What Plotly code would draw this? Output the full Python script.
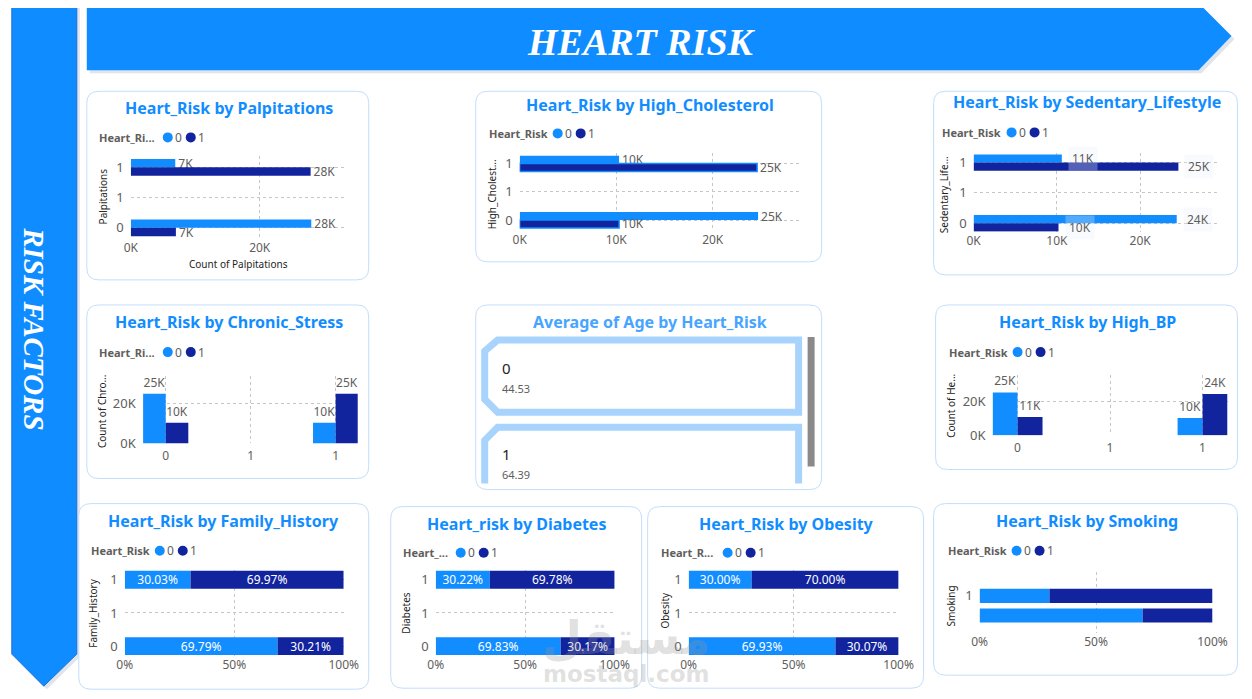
import plotly.graph_objects as go

# the photographed page comes out slightly shrunk and shifted; positions below are
# given in picture pixels and mapped back to figure pixels with these factors
SX, SY = 0.982, 0.984
OX, OY = 15.2, 10.0
W, H = 1262, 702

LIGHT = "#118DFF"
DARK = "#12239E"
TITLE_BLUE = "#118DFF"
GRID = "#C8C6C4"
TICK = "#605E5C"
BORDER = "#C3DEFA"
FONT = "Noto Sans"

# legend levels of Heart_Risk
risk_levels = ["0", "1"]

# horizontal count charts (factor value 1 first, then 0)
hbar_levels = [1, 0]
palpitations_risk0 = [6900, 28000]
palpitations_risk1 = [27900, 7000]
cholesterol_risk0 = [10300, 24700]
cholesterol_risk1 = [24600, 10300]
sedentary_risk0 = [10600, 24400]
sedentary_risk1 = [24600, 10200]

# vertical count charts (factor value 0 first, then 1)
vbar_levels = [0, 1]
stress_risk0 = [24800, 10300]
stress_risk1 = [10300, 24800]
bp_risk0 = [25300, 10300]
bp_risk1 = [10800, 24400]

# 100% stacked charts, share in % (factor value 1 first, then 0)
pct_levels = [1, 0]
family_risk0 = [30.03, 69.79]
family_risk1 = [69.97, 30.21]
diabetes_risk0 = [30.22, 69.83]
diabetes_risk1 = [69.78, 30.17]
obesity_risk0 = [30.00, 69.93]
obesity_risk1 = [70.00, 30.07]
smoking_risk0 = [30.0, 70.0]
smoking_risk1 = [70.0, 30.0]

# average age card
age_levels = ["0", "1"]
avg_age = [44.53, 64.39]

count_ticks = ["0K", "10K", "20K"]
pct_ticks = ["0%", "50%", "100%"]

fig = go.Figure()
shapes = []
annotations = []


def fx(p):
    return ((p - OX) / SX) / W


def fy(p):
    return 1 - ((p - OY) / SY) / H


def pt(x, y):
    return f"{fx(x):.5f},{fy(y):.5f}"


def polygon(points, fill, line_color=None, line_width=0, close=True, layer="below"):
    d = "M " + " L ".join(pt(x, y) for x, y in points) + (" Z" if close else "")
    shapes.append(dict(type="path", xref="paper", yref="paper", path=d, fillcolor=fill,
                       line=dict(color=line_color or fill, width=line_width), layer=layer))


def panel(l, t, r, b, rad=12):
    d = (f"M {pt(l + rad, t)} L {pt(r - rad, t)} Q {pt(r, t)} {pt(r, t + rad)} "
         f"L {pt(r, b - rad)} Q {pt(r, b)} {pt(r - rad, b)} L {pt(l + rad, b)} "
         f"Q {pt(l, b)} {pt(l, b - rad)} L {pt(l, t + rad)} Q {pt(l, t)} {pt(l + rad, t)} Z")
    shapes.append(dict(type="path", xref="paper", yref="paper", path=d, fillcolor="white",
                       line=dict(color=BORDER, width=1), layer="below"))


def text(x, y, s, size=12, color=TICK, bold=False, anchor="center", angle=0, family=FONT, italic=False):
    annotations.append(dict(x=fx(x), y=fy(y), xref="paper", yref="paper", text=s, showarrow=False,
                            xanchor=anchor, yanchor="middle", textangle=angle,
                            font=dict(family=family, size=size, color=color,
                                      weight="bold" if bold else "normal",
                                      style="italic" if italic else "normal")))


def title(x, y, s, color=TITLE_BLUE):
    text(x, y, s, size=16, color=color, bold=True)


def legend(x, y, label, c0, c1):
    text(x, y, label, size=11, color=TICK, bold=True, anchor="left")
    for cx, col, lab in ((c0, LIGHT, risk_levels[0]), (c1, DARK, risk_levels[1])):
        shapes.append(dict(type="circle", xref="paper", yref="paper", x0=fx(cx - 5), x1=fx(cx + 5),
                           y0=fy(y + 5), y1=fy(y - 5), fillcolor=col, line=dict(width=0)))
        text(cx + 5, y, lab, size=12, anchor="left")


axis_count = [0]


def make_axes(box, xrange, yrange, xtv, xtt, ytv, ytt, xstandoff=0):
    axis_count[0] += 1
    n = axis_count[0]
    sx = "" if n == 1 else str(n)
    l, t, r, b = box
    common = dict(showgrid=True, gridcolor=GRID, griddash="dot", gridwidth=1, zeroline=False,
                  showline=False, ticks="", fixedrange=True)
    fig.update_layout(**{
        "xaxis" + sx: dict(domain=[fx(l), fx(r)], range=xrange, anchor="y" + sx,
                           tickvals=xtv, ticktext=xtt, ticklabelstandoff=xstandoff,
                           tickfont=dict(family=FONT, size=12, color=TICK), **common),
        "yaxis" + sx: dict(domain=[fy(b), fy(t)], range=yrange, anchor="x" + sx,
                           tickvals=ytv, ticktext=ytt, ticklabelstandoff=6,
                           tickfont=dict(family=FONT, size=13, color=TICK), **common),
    })
    return "x" + sx, "y" + sx


def k_label(v):
    return f"{int(v / 1000 + 0.5)}K"


def count_bars(ax, levels, risk0, risk1, horizontal, width, edge=None, label_bg=None):
    xa, ya = ax
    for vals, col, off in ((risk0, LIGHT, 0 if horizontal else -width),
                           (risk1, DARK, -width if horizontal else 0)):
        line = dict(width=0)
        if edge and col == DARK:
            line = dict(color=edge, width=1.5)
        labels = [k_label(v) for v in vals]
        common = dict(width=width, offset=off, marker=dict(color=col, line=line),
                      text=None if label_bg else labels, textposition="outside",
                      textfont=dict(family=FONT, size=12, color=TICK), cliponaxis=False,
                      xaxis=xa, yaxis=ya, showlegend=False, hoverinfo="skip")
        if horizontal:
            fig.add_trace(go.Bar(x=vals, y=levels, orientation="h", **common))
        else:
            fig.add_trace(go.Bar(x=levels, y=vals, **common))
        if label_bg and horizontal:
            for v, lev, lab in zip(vals, levels, labels):
                annotations.append(dict(x=v, y=lev + off + width / 2, xref=xa, yref=ya, text=lab,
                                        showarrow=False, xanchor="left", yanchor="middle", xshift=6,
                                        bgcolor=label_bg, borderpad=3,
                                        font=dict(family=FONT, size=12, color=TICK)))


def percent_bars(ax, levels, risk0, risk1, width, show_text=True):
    xa, ya = ax
    for vals, base, col in ((risk0, [0] * len(risk0), LIGHT), (risk1, risk0, DARK)):
        fig.add_trace(go.Bar(
            x=vals, y=levels, base=base, orientation="h", width=width, offset=-width / 2,
            marker=dict(color=col, line=dict(width=0)),
            text=[f"{v:.2f}%" for v in vals] if show_text else None,
            textposition="inside", insidetextanchor="middle", textangle=0,
            textfont=dict(family=FONT, size=12, color="white"),
            xaxis=xa, yaxis=ya, showlegend=False, hoverinfo="skip"))


# ---------- banners ----------
polygon([(89, 8), (1201, 8), (1234, 41), (1201, 75), (89, 75)], "rgba(60,90,140,0.16)")
polygon([(86, 5), (1198, 5), (1231, 38), (1198, 72), (86, 72)], "#0F8CFF")
polygon([(14, 8), (79, 8), (79, 657), (46, 689), (14, 657)], "rgba(60,90,140,0.16)")
polygon([(11, 5), (76, 5), (76, 654), (43, 686), (11, 654)], "#0F8CFF", line_color="#1A6FD8", line_width=1)
text(641, 44, "HEART RISK", size=38, color="white", bold=True, italic=True, family="Liberation Serif")
text(33, 330, "RISK FACTORS", size=29, color="white", bold=True, italic=True, family="Liberation Serif", angle=90)
shapes.append(dict(type="line", xref="paper", yref="paper", x0=fx(1248), x1=fx(1248), y0=0, y1=1,
                   line=dict(color="#6A6A6A", width=2, dash="dot")))

# ---------- panels ----------
panel(86, 93, 368, 281)
panel(475, 93, 821, 263)
panel(933, 93, 1237, 276)
panel(86, 306, 368, 479)
panel(475, 306, 821, 490)
panel(935, 306, 1237, 470)
panel(78, 504, 368, 689)
panel(390, 507, 641, 688)
panel(647, 507, 923, 688)
panel(933, 504, 1237, 675)

# ---------- Palpitations ----------
title(228, 110, "Heart_Risk by Palpitations")
legend(96, 139, "Heart_Ri...", 167, 190)
ax = make_axes((130, 158, 346, 240), [0, 33500], [-0.18, 1.18],
               [0, 20000], [count_ticks[0], count_ticks[2]], [0, 0.5, 1], ["0", "1", "1"])
count_bars(ax, hbar_levels, palpitations_risk0, palpitations_risk1, True, 0.14)
text(102, 198, "Palpitations", size=10, color="#252423", angle=-90)
text(238, 265, "Count of Palpitations", size=10, color="#252423")

# ---------- High_Cholesterol ----------
title(649, 107, "Heart_Risk by High_Cholesterol")
legend(486, 135, "Heart_Risk", 557, 580)
ax = make_axes((519, 155, 798, 232), [0, 28900], [-0.19, 1.18],
               [0, 10000, 20000], count_ticks, [0, 0.5, 1], ["0", "1", "1"])
count_bars(ax, hbar_levels, cholesterol_risk0, cholesterol_risk1, True, 0.14, edge=LIGHT)
text(491, 196, "High_Cholest...", size=10, color="#252423", angle=-90)

# ---------- Sedentary_Lifestyle ----------
title(1086, 104, "Heart_Risk by Sedentary_Lifestyle")
legend(939, 134, "Heart_Risk", 1011, 1034)
ax = make_axes((973, 155, 1217, 233), [0, 29300], [-0.14, 1.15],
               [0, 10000, 20000], count_ticks, [0, 0.5, 1], ["0", "1", "1"])
count_bars(ax, hbar_levels, sedentary_risk0, sedentary_risk1, True, 0.135,
           label_bg="rgba(232,240,250,0.3)")
text(943, 196, "Sedentary_Life...", size=10, color="#252423", angle=-90)

# ---------- Chronic_Stress ----------
title(228, 323, "Heart_Risk by Chronic_Stress")
legend(96, 353, "Heart_Ri...", 167, 190)
ax = make_axes((142, 377, 357, 444), [-0.135, 1.13], [0, 33500],
               [0, 0.5, 1], ["0", "1", "1"], [0, 20000], [count_ticks[0], count_ticks[2]], xstandoff=4)
count_bars(ax, vbar_levels, stress_risk0, stress_risk1, False, 0.133)
text(102, 412, "Count of Chro...", size=10, color="#252423", angle=-90)

# ---------- Average of Age card ----------
title(649, 323, "Average of Age by Heart_Risk", color="#47A5FF")
CARD = "#A7D3FD"
polygon([(484, 352), (497, 341), (798, 341), (798, 413), (497, 413), (484, 400)], "white",
        line_color=CARD, line_width=7, layer="above")
polygon([(484, 484), (484, 441), (497, 428), (798, 428), (798, 484)], "rgba(0,0,0,0)",
        line_color=CARD, line_width=7, close=False, layer="above")
shapes.append(dict(type="rect", xref="paper", yref="paper", x0=fx(807), x1=fx(814), y0=fy(467), y1=fy(338),
                   fillcolor="#8A8A8A", line=dict(width=0)))
for i, (lev, age) in enumerate(zip(age_levels, avg_age)):
    text(499, 369 + 86 * i, lev, size=15, color="#252423", anchor="left")
    text(499, 389 + 86 * i, f"{age:.2f}", size=11, color=TICK, anchor="left")

# ---------- High_BP ----------
title(1087, 323, "Heart_Risk by High_BP")
legend(946, 353, "Heart_Risk", 1017, 1040)
ax = make_axes((992, 376, 1227, 436), [-0.135, 1.135], [0, 35500],
               [0, 0.5, 1], ["0", "1", "1"], [0, 20000], [count_ticks[0], count_ticks[2]], xstandoff=4)
count_bars(ax, vbar_levels, bp_risk0, bp_risk1, False, 0.135)
text(951, 407, "Count of He...", size=10, color="#252423", angle=-90)

# ---------- Family_History ----------
title(223, 521, "Heart_Risk by Family_History")
legend(88, 551, "Heart_Risk", 159, 182)
ax = make_axes((124, 570, 343, 656), [0, 100], [-0.15, 1.15],
               [0, 50, 100], pct_ticks, [0, 0.5, 1], ["0", "1", "1"])
percent_bars(ax, pct_levels, family_risk0, family_risk1, 0.27)
text(92, 613, "Family_History", size=10, color="#252423", angle=-90)

# ---------- Diabetes ----------
title(516, 524, "Heart_risk by Diabetes")
legend(400, 553, "Heart_...", 460, 483)
ax = make_axes((435, 570, 614, 656), [0, 100], [-0.15, 1.15],
               [0, 50, 100], pct_ticks, [0, 0.5, 1], ["0", "1", "1"])
percent_bars(ax, pct_levels, diabetes_risk0, diabetes_risk1, 0.27)
text(405, 613, "Diabetes", size=10, color="#252423", angle=-90)

# ---------- Obesity ----------
title(786, 524, "Heart_Risk by Obesity")
legend(658, 553, "Heart_R...", 727, 750)
ax = make_axes((688, 570, 898, 656), [0, 100], [-0.15, 1.15],
               [0, 50, 100], pct_ticks, [0, 0.5, 1], ["0", "1", "1"])
percent_bars(ax, pct_levels, obesity_risk0, obesity_risk1, 0.27)
text(664, 610, "Obesity", size=10, color="#252423", angle=-90)

# ---------- Smoking ----------
title(1086, 521, "Heart_Risk by Smoking")
legend(945, 551, "Heart_Risk", 1016, 1039)
ax = make_axes((979, 572, 1212, 633), [0, 100], [-0.9, 2.23],
               [0, 50, 100], pct_ticks, [1], ["1"])
percent_bars(ax, pct_levels, smoking_risk0, smoking_risk1, 0.72, show_text=False)
text(950, 606, "Smoking", size=10, color="#252423", angle=-90)

# ---------- watermark ----------
text(625, 638, "مستقل", size=46, color="rgba(150,150,150,0.3)", bold=True, family="DejaVu Sans")
text(625, 674, "mostaql.com", size=23, color="rgba(150,150,150,0.3)", bold=True, family="DejaVu Sans")

fig.update_layout(
    width=W, height=H, margin=dict(l=0, r=0, t=0, b=0),
    paper_bgcolor="white", plot_bgcolor="rgba(0,0,0,0)",
    barmode="overlay", showlegend=False,
    shapes=shapes, annotations=annotations,
    font=dict(family=FONT, color=TICK),
)
fig.update_traces(constraintext="none", selector=dict(type="bar"))

fig.write_html("out.html")
